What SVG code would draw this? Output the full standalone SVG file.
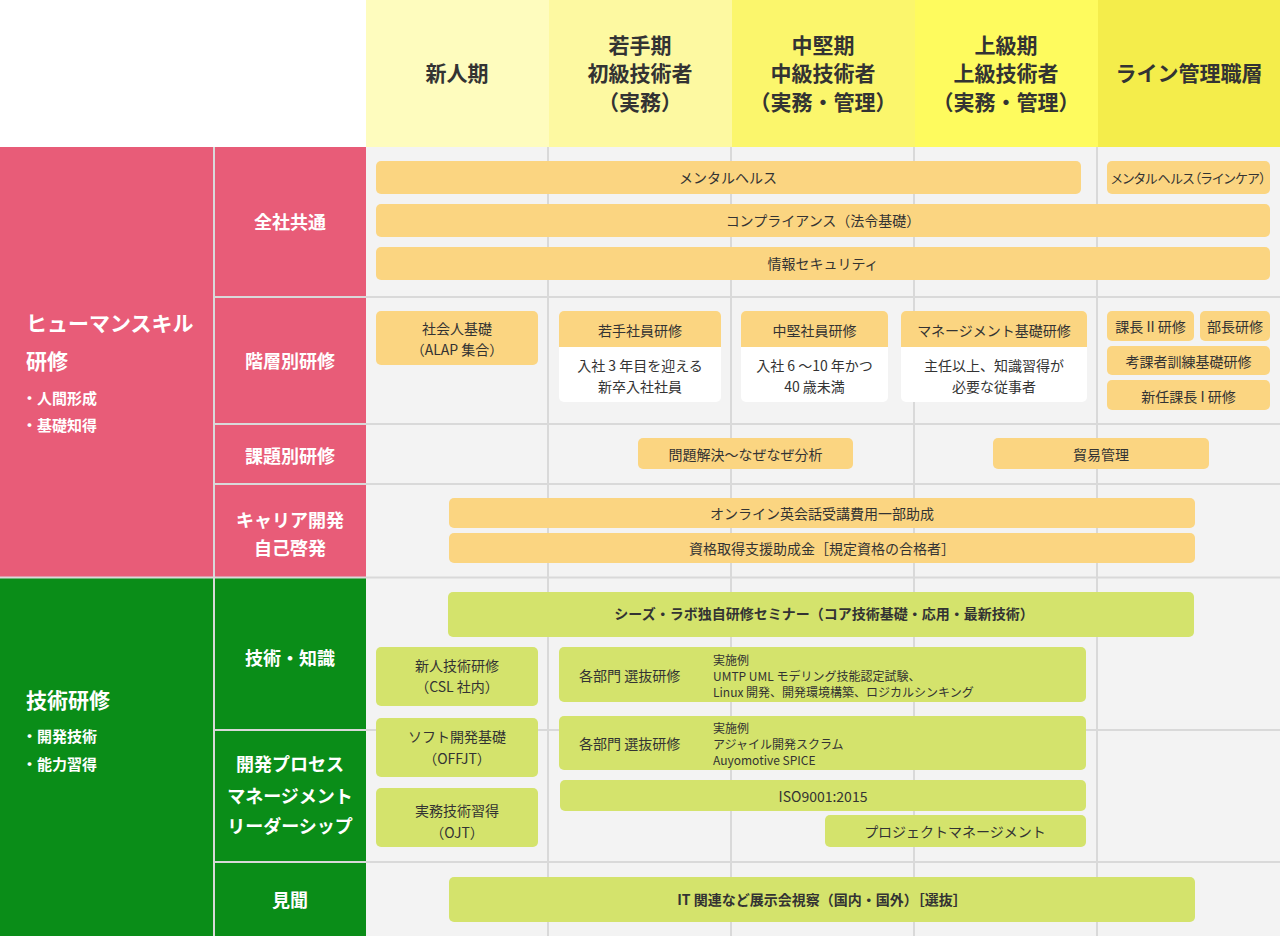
<svg xmlns="http://www.w3.org/2000/svg" width="1280" height="936" viewBox="0 0 1280 936">
<style>
text{font-family:"Noto Sans CJK JP","Noto Sans",sans-serif;dominant-baseline:central}
.hd{font-size:21px;font-weight:700;fill:#333;text-anchor:middle}
.big{font-size:21px;font-weight:700;fill:#fff}
.bul{font-size:15px;font-weight:700;fill:#fff}
.cat{font-size:18px;font-weight:700;fill:#fff;text-anchor:middle}
.t{font-size:14px;fill:#333;text-anchor:middle}
.tb{font-size:14px;font-weight:700;fill:#333;text-anchor:middle}
.ts{font-size:12px;fill:#333}
.or{fill:#FBD581}
.gr{fill:#D4E36C}
.wh{fill:#fff}
.gl{stroke:#d9d9d9;stroke-width:2}
</style>
<rect width="1280" height="936" fill="#fff"/>
<g id="header">
<rect x="366" y="0" width="183" height="147" fill="#FEFCBE"/>
<rect x="549" y="0" width="183" height="147" fill="#FDF9A1"/>
<rect x="732" y="0" width="183" height="147" fill="#FBF66C"/>
<rect x="915" y="0" width="183" height="147" fill="#FEFB5E"/>
<rect x="1098" y="0" width="182" height="147" fill="#F4ED4B"/>
<text class="hd" x="457" y="72">新人期</text>
<text class="hd" x="640" y="44">若手期</text>
<text class="hd" x="640" y="72">初級技術者</text>
<text class="hd" x="640" y="101">（実務）</text>
<text class="hd" x="823" y="44">中堅期</text>
<text class="hd" x="823" y="72">中級技術者</text>
<text class="hd" x="823" y="101">（実務・管理）</text>
<text class="hd" x="1006" y="44">上級期</text>
<text class="hd" x="1006" y="72">上級技術者</text>
<text class="hd" x="1006" y="101">（実務・管理）</text>
<text class="hd" x="1189" y="72">ライン管理職層</text>
</g>
<rect x="366" y="147" width="914" height="789" fill="#F3F3F3"/>
<g id="sections">
<rect x="0" y="147" width="366" height="431" fill="#E85C78"/>
<rect x="0" y="578" width="366" height="358" fill="#0A8D18"/>
<text class="big" x="26" y="322">ヒューマンスキル</text>
<text class="big" x="26" y="360">研修</text>
<text class="bul" x="22" y="397">・人間形成</text>
<text class="bul" x="22" y="424">・基礎知得</text>
<text class="big" x="26" y="699">技術研修</text>
<text class="bul" x="22" y="735">・開発技術</text>
<text class="bul" x="22" y="763">・能力習得</text>
<text class="cat" x="290" y="221">全社共通</text>
<text class="cat" x="290" y="360">階層別研修</text>
<text class="cat" x="290" y="455">課題別研修</text>
<text class="cat" x="290" y="519">キャリア開発</text>
<text class="cat" x="290" y="547">自己啓発</text>
<text class="cat" x="290" y="657">技術・知識</text>
<text class="cat" x="290" y="763">開発プロセス</text>
<text class="cat" x="290" y="795">マネージメント</text>
<text class="cat" x="290" y="825">リーダーシップ</text>
<text class="cat" x="290" y="899">見聞</text>
</g>
<g id="grid">
<line class="gl" x1="214" y1="147" x2="214" y2="936"/>
<line class="gl" x1="548" y1="147" x2="548" y2="936"/>
<line class="gl" x1="731" y1="147" x2="731" y2="936"/>
<line class="gl" x1="914" y1="147" x2="914" y2="936"/>
<line class="gl" x1="1097" y1="147" x2="1097" y2="936"/>
<line class="gl" x1="214" y1="297" x2="1280" y2="297"/>
<line class="gl" x1="214" y1="424" x2="1280" y2="424"/>
<line class="gl" x1="214" y1="484" x2="1280" y2="484"/>
<line class="gl" x1="0" y1="577.5" x2="1280" y2="577.5"/>
<line class="gl" x1="214" y1="730" x2="1280" y2="730"/>
<line class="gl" x1="214" y1="862" x2="1280" y2="862"/>
</g>
<g id="connectors"/>
<g id="n-mental">
<rect class="or" x="376" y="161" width="705" height="33" rx="5"/>
<text class="t" x="728" y="177">メンタルヘルス</text>
</g>
<g id="n-mental-line">
<rect class="or" x="1107" y="161" width="163" height="33" rx="5"/>
<text class="t" x="1188.5" y="177" style="font-size:13px;font-feature-settings:'palt'">メンタルヘルス（ラインケア）</text>
</g>
<g id="n-compliance">
<rect class="or" x="376" y="204" width="894" height="33" rx="5"/>
<text class="t" x="823" y="220">コンプライアンス（法令基礎）</text>
</g>
<g id="n-security">
<rect class="or" x="376" y="247" width="894" height="33" rx="5"/>
<text class="t" x="823" y="263">情報セキュリティ</text>
</g>
<g id="n-shakaijin">
<rect class="or" x="376" y="311" width="162" height="54" rx="5"/>
<text class="t" x="457" y="328">社会人基礎</text>
<text class="t" x="457" y="349">（ALAP 集合）</text>
</g>
<g id="n-wakate">
<rect class="wh" x="559" y="311" width="162" height="91" rx="5"/>
<rect class="or" x="559" y="311" width="162" height="36" rx="5"/>
<rect class="or" x="559" y="340" width="162" height="7"/>
<text class="t" x="640" y="330">若手社員研修</text>
<text class="t" x="640" y="365">入社 3 年目を迎える</text>
<text class="t" x="640" y="386">新卒入社社員</text>
</g>
<g id="n-chuken">
<rect class="wh" x="741" y="311" width="147" height="91" rx="5"/>
<rect class="or" x="741" y="311" width="147" height="36" rx="5"/>
<rect class="or" x="741" y="340" width="147" height="7"/>
<text class="t" x="814.5" y="330">中堅社員研修</text>
<text class="t" x="814.5" y="365">入社 6 〜10 年かつ</text>
<text class="t" x="814.5" y="386">40 歳未満</text>
</g>
<g id="n-management">
<rect class="wh" x="901" y="311" width="186" height="91" rx="5"/>
<rect class="or" x="901" y="311" width="186" height="36" rx="5"/>
<rect class="or" x="901" y="340" width="186" height="7"/>
<text class="t" x="994" y="330">マネージメント基礎研修</text>
<text class="t" x="994" y="365">主任以上、知識習得が</text>
<text class="t" x="994" y="386">必要な従事者</text>
</g>
<g id="n-kacho2">
<rect class="or" x="1107" y="311" width="87" height="30" rx="5"/>
<text class="t" x="1150.5" y="326">課長 II 研修</text>
</g>
<g id="n-bucho">
<rect class="or" x="1200" y="311" width="70" height="30" rx="5"/>
<text class="t" x="1235" y="326">部長研修</text>
</g>
<g id="n-kokasha">
<rect class="or" x="1107" y="346" width="163" height="29" rx="5"/>
<text class="t" x="1188.5" y="361">考課者訓練基礎研修</text>
</g>
<g id="n-shinnin">
<rect class="or" x="1107" y="380" width="163" height="30" rx="5"/>
<text class="t" x="1188.5" y="396">新任課長 I 研修</text>
</g>
<g id="n-mondai">
<rect class="or" x="638" y="438" width="215" height="31" rx="5"/>
<text class="t" x="745.5" y="454">問題解決〜なぜなぜ分析</text>
</g>
<g id="n-boeki">
<rect class="or" x="993" y="438" width="216" height="31" rx="5"/>
<text class="t" x="1101" y="454">貿易管理</text>
</g>
<g id="n-online">
<rect class="or" x="449" y="498" width="746" height="30" rx="5"/>
<text class="t" x="822" y="513">オンライン英会話受講費用一部助成</text>
</g>
<g id="n-shikaku">
<rect class="or" x="449" y="533" width="746" height="30" rx="5"/>
<text class="t" x="822" y="548">資格取得支援助成金［規定資格の合格者］</text>
</g>
<g id="n-seeds">
<rect class="gr" x="448" y="592" width="746" height="45" rx="5"/>
<text class="tb" x="824" y="613">シーズ・ラボ独自研修セミナー（コア技術基礎・応用・最新技術）</text>
</g>
<g id="n-shinjin-gijutsu">
<rect class="gr" x="376" y="647" width="162" height="59" rx="5"/>
<text class="t" x="457" y="665">新人技術研修</text>
<text class="t" x="457" y="686">（CSL 社内）</text>
</g>
<g id="n-senbatsu1">
<rect class="gr" x="559" y="647" width="527" height="55" rx="5"/>
<text class="t" x="579" y="675" style="text-anchor:start">各部門 選抜研修</text>
<text class="ts" x="713" y="659">実施例</text>
<text class="ts" x="713" y="675">UMTP UML モデリング技能認定試験、</text>
<text class="ts" x="713" y="691">Linux 開発、開発環境構築、ロジカルシンキング</text>
</g>
<g id="n-soft">
<rect class="gr" x="376" y="718" width="162" height="59" rx="5"/>
<text class="t" x="457" y="736">ソフト開発基礎</text>
<text class="t" x="457" y="758">（OFFJT）</text>
</g>
<g id="n-senbatsu2">
<rect class="gr" x="559" y="716" width="527" height="54" rx="5"/>
<text class="t" x="579" y="743" style="text-anchor:start">各部門 選抜研修</text>
<text class="ts" x="713" y="727">実施例</text>
<text class="ts" x="713" y="743">アジャイル開発スクラム</text>
<text class="ts" x="713" y="759">Auyomotive SPICE</text>
</g>
<g id="n-jitsumu">
<rect class="gr" x="376" y="788" width="162" height="59" rx="5"/>
<text class="t" x="457" y="810">実務技術習得</text>
<text class="t" x="457" y="832">（OJT）</text>
</g>
<g id="n-iso">
<rect class="gr" x="560" y="780" width="526" height="31" rx="5"/>
<text class="t" x="823" y="796">ISO9001:2015</text>
</g>
<g id="n-pm">
<rect class="gr" x="825" y="815" width="261" height="32" rx="5"/>
<text class="t" x="955" y="831">プロジェクトマネージメント</text>
</g>
<g id="n-it">
<rect class="gr" x="449" y="877" width="746" height="45" rx="5"/>
<text class="tb" x="822" y="899">IT 関連など展示会視察（国内・国外）［選抜］</text>
</g>
</svg>
